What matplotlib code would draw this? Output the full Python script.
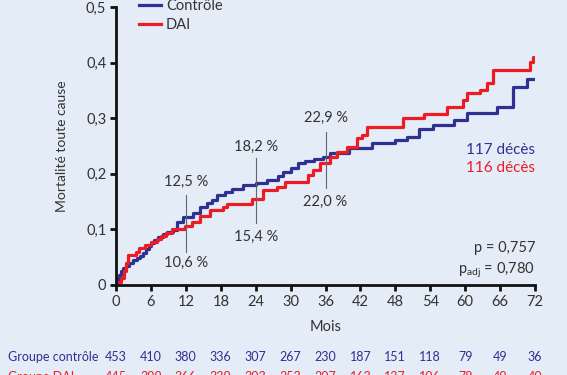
import matplotlib
matplotlib.use('Agg')
import matplotlib.pyplot as plt
import matplotlib.transforms as mtransforms

# cumulative all-cause mortality, step curves
ctrl_t = [0, 0.2, 0.5, 0.8, 1.2, 1.7, 2.3, 3, 3.6, 4.1, 4.6, 5.1, 5.6, 6.1, 6.6, 7.2, 8, 8.8,
          9.8, 10.5, 11.5, 13.2, 14.4, 15.6, 16.5, 17.3, 18.7, 20, 21.8, 24, 26, 27.8, 28.7, 30,
          31.3, 32.5, 34, 35.6, 36.8, 40, 44, 48, 50, 52, 54.5, 58, 60.3, 65.4, 68.2, 70.6, 72]
ctrl_v = [0, 0.01, 0.018, 0.025, 0.03, 0.034, 0.04, 0.045, 0.048, 0.053, 0.058, 0.064,
          0.07, 0.076, 0.081, 0.086, 0.091, 0.095, 0.099, 0.113, 0.122, 0.129, 0.14, 0.147,
          0.152, 0.162, 0.167, 0.172, 0.18, 0.183, 0.189, 0.196, 0.203, 0.21, 0.219, 0.223,
          0.227, 0.231, 0.237, 0.246, 0.255, 0.261, 0.266, 0.281, 0.288, 0.297, 0.31, 0.32,
          0.356, 0.371, 0.371]

dai_t = [0, 0.4, 0.9, 1.3, 1.7, 2, 3.4, 4, 5, 6, 7, 7.8, 8.6, 9.6, 11.9, 13, 14.4, 16.2, 18.4,
         19, 23.4, 25.3, 27.7, 29, 33, 33.9, 35, 36.8, 38, 39.7, 41.4, 42.3, 43.2, 49.3, 52.9,
         56.8, 59.6, 60.3, 62.5, 63.7, 64.8, 71.1, 71.7, 72]
dai_v = [0, 0.006, 0.012, 0.025, 0.04, 0.054, 0.06, 0.066, 0.072, 0.077, 0.082, 0.088, 0.094,
         0.1, 0.106, 0.114, 0.124, 0.135, 0.14, 0.146, 0.154, 0.171, 0.176, 0.185, 0.198, 0.207,
         0.22, 0.23, 0.239, 0.248, 0.264, 0.27, 0.284, 0.3, 0.308, 0.32, 0.332, 0.345, 0.351,
         0.363, 0.387, 0.401, 0.41, 0.41]

months = [0, 6, 12, 18, 24, 30, 36, 42, 48, 54, 60, 66, 72]
risk_ctrl = [453, 410, 380, 336, 307, 267, 230, 187, 151, 118, 79, 49, 36]
risk_dai = [445, 399, 366, 339, 303, 253, 207, 163, 137, 106, 78, 49, 40]

# percentages marked at 12, 24 and 36 months
marks = [12, 24, 36]
lab_ctrl = ['12,5 %', '18,2 %', '22,9 %']
lab_dai = ['10,6 %', '15,4 %', '22,0 %']

blue = '#2e3192'
red = '#ed1c24'
bg = '#e4ecf7'
txt = '#333333'

plt.rcParams['font.family'] = ['Lato', 'DejaVu Sans']

fig = plt.figure(figsize=(5.67, 3.75), dpi=100, facecolor=bg)
ax = fig.add_axes([116 / 567, 1 - 285 / 375, 419 / 567, 278 / 375])
ax.set_facecolor(bg)

ax.step(ctrl_t, ctrl_v, where='post', color=blue, linewidth=2.3, label='Contrôle')
ax.step(dai_t, dai_v, where='post', color=red, linewidth=2.3, label='DAI')

ax.set_xlim(0, 72)
ax.set_ylim(0, 0.5)
ax.set_xticks(months)
ax.set_yticks([0, 0.1, 0.2, 0.3, 0.4, 0.5])
ax.set_yticklabels(['0', '0,1', '0,2', '0,3', '0,4', '0,5'])
for s in ['top', 'right']:
    ax.spines[s].set_visible(False)
for s in ['left', 'bottom']:
    ax.spines[s].set_linewidth(2)
    ax.spines[s].set_color('#111111')
ax.tick_params(direction='out', length=4, width=2, colors='#111111', labelsize=10.5,
               labelcolor=txt, pad=3)

# vertical markers with percentages
line_lo = [0.059, 0.112, 0.174]
line_hi = [0.162, 0.228, 0.275]
y_top = [0.185, 0.248, 0.30]
y_bot = [0.04, 0.086, 0.149]
for i, m in enumerate(marks):
    ax.plot([m, m], [line_lo[i], line_hi[i]], color='#666666', lw=0.8)
    ax.text(m, y_top[i], lab_ctrl[i], ha='center', va='center', fontsize=10.5, color=txt)
    ax.text(m, y_bot[i], lab_dai[i], ha='center', va='center', fontsize=10.5, color=txt)

ax.text(72, 0.243, '117 décès', ha='right', va='center', fontsize=11, color=blue)
ax.text(72, 0.21, '116 décès', ha='right', va='center', fontsize=11, color=red)
ax.text(72, 0.067, 'p = 0,757', ha='right', va='center', fontsize=10.5, color=txt)
ax.text(72, 0.027, r'p$_{\mathregular{adj}}$ = 0,780', ha='right', va='center', fontsize=10.5, color=txt)

tr = mtransforms.blended_transform_factory(ax.transData, ax.transAxes)
ax.text(36, -0.151, 'Mois', transform=tr, ha='center', va='center', fontsize=10.5, color=txt)
ax.text(-0.129, 0.5, 'Mortalité toute cause', transform=ax.transAxes, rotation=90,
        ha='center', va='center', fontsize=10, color=txt)

leg = ax.legend(loc='upper left', bbox_to_anchor=(0.055, 1.03), frameon=False, fontsize=10.5,
                handlelength=1.5, handletextpad=0.35, labelspacing=0.37, borderpad=0,
                borderaxespad=0)
for t in leg.get_texts():
    t.set_color(txt)

# number at risk table (second row is cut by the bottom edge, as in the original)
fig.text(8 / 567, 1 - 357 / 375, 'Groupe contrôle', ha='left', va='center', fontsize=9, color=blue)
fig.text(8 / 567, 1 - 377 / 375, 'Groupe DAI', ha='left', va='center', fontsize=9, color=red)
for m, a, b in zip(months, risk_ctrl, risk_dai):
    ax.text(m, -0.259, str(a), transform=tr, ha='center', va='center', fontsize=9, color=blue)
    ax.text(m, -0.331, str(b), transform=tr, ha='center', va='center', fontsize=9, color=red)

fig.savefig('out.png', dpi=100, facecolor=bg)
